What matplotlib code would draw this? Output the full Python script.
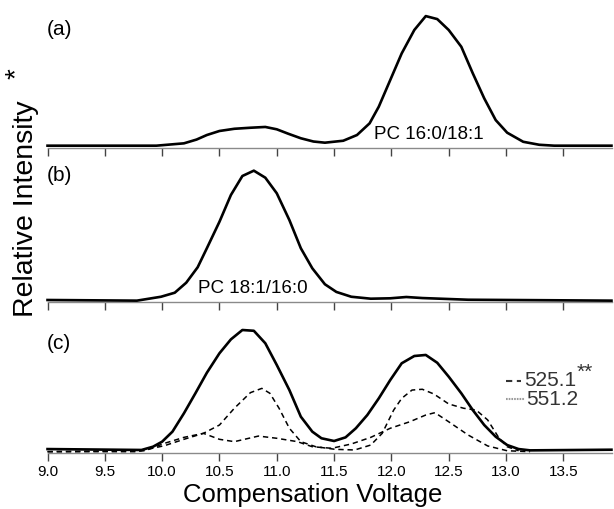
import matplotlib
matplotlib.use('Agg')
import matplotlib.pyplot as plt
from matplotlib.lines import Line2D

plt.rcParams['font.family'] = ['Liberation Sans', 'DejaVu Sans']

# Panel (a): PC 16:0/18:1
xa = [9.0, 9.95, 10.19, 10.30, 10.39, 10.50, 10.63, 10.77, 10.90, 11.0, 11.10, 11.21, 11.32,
      11.42, 11.58, 11.70, 11.81, 11.89, 11.99, 12.09, 12.20, 12.30, 12.40, 12.50, 12.61,
      12.71, 12.81, 12.91, 13.01, 13.15, 13.29, 13.42, 13.92]
ya = [1.8, 1.8, 3.6, 6.5, 10.0, 13.1, 14.8, 15.6, 16.2, 14.4, 11.0, 7.5, 5.0,
      4.1, 5.6, 10.0, 19.0, 31.8, 52.3, 72.8, 90.8, 101.5, 99.2, 90.8, 77.9,
      57.5, 38.2, 21.5, 11.8, 4.8, 2.5, 1.8, 1.8]

# Panel (b): PC 18:1/16:0
xb = [9.0, 9.78, 9.99, 10.11, 10.21, 10.31, 10.39, 10.50, 10.60, 10.70, 10.80, 10.90,
      11.0, 11.11, 11.21, 11.31, 11.42, 11.52, 11.65, 11.82, 11.99, 12.13, 12.27,
      12.67, 13.92]
yb = [1.3, 0.8, 3.8, 6.9, 14.6, 26.5, 41.1, 61.5, 82.1, 96.7, 100.8, 95.4,
      83.4, 62.8, 41.1, 25.7, 13.4, 7.5, 3.8, 2.3, 2.6, 3.6, 2.8,
      1.5, 0.8]

# Panel (c): mixture, total signal
xc = [9.0, 9.82, 9.92, 10.0, 10.09, 10.19, 10.29, 10.39, 10.50, 10.60, 10.70, 10.80,
      10.90, 11.0, 11.11, 11.21, 11.31, 11.39, 11.50, 11.60, 11.69, 11.79, 11.89,
      11.99, 12.09, 12.20, 12.30, 12.40, 12.50, 12.61, 12.71, 12.81, 12.91, 13.01,
      13.11, 13.21, 13.92]
yc = [2.8, 2.1, 4.6, 8.5, 16.2, 30.3, 45.7, 61.5, 76.5, 87.2, 94.4, 93.8,
      84.2, 67.5, 48.2, 27.7, 16.2, 11.1, 9.0, 11.8, 18.8, 29.0, 41.8,
      55.9, 68.8, 74.4, 75.2, 69.2, 58.5, 45.7, 32.8, 21.3, 12.3, 5.9,
      2.8, 1.8, 2.3]

# Panel (c): m/z 525.1
x525 = [9.0, 9.78, 10.02, 10.19, 10.36, 10.50, 10.63, 10.77, 10.87, 10.94, 11.02, 11.11,
        11.21, 11.34, 11.51, 11.68, 11.82, 11.92, 12.02, 12.09, 12.18, 12.27, 12.37,
        12.50, 12.63, 12.74, 12.84, 12.94, 13.01, 13.11]
y525 = [0.8, 0.8, 5.4, 10.3, 14.9, 21.3, 34.2, 46.2, 49.5, 45.7, 34.2, 18.8,
        8.5, 4.6, 2.6, 2.1, 5.9, 14.9, 32.8, 41.8, 48.2, 48.8, 45.2,
        37.5, 34.2, 32.8, 25.2, 11.1, 4.6, 1.5]

# Panel (c): m/z 551.2
x551 = [9.0, 9.85, 10.02, 10.19, 10.36, 10.50, 10.63, 10.84, 11.0, 11.18, 11.31, 11.48,
        11.65, 11.82, 11.99, 12.16, 12.30, 12.38, 12.50, 12.67, 12.84, 13.01, 13.21]
y551 = [0.8, 1.5, 7.2, 11.8, 14.9, 10.3, 8.5, 12.8, 11.1, 8.5, 4.6, 3.4,
        6.7, 11.8, 18.8, 23.8, 29.0, 30.8, 23.8, 13.6, 5.2, 1.5, 0.8]

xticks = [9.0, 9.5, 10.0, 10.5, 11.0, 11.5, 12.0, 12.5, 13.0, 13.5]
xtick_labels = ['9.0', '9.5', '10.0', '10.5', '11.0', '11.5', '12.0', '12.5', '13.0', '13.5']
panel_labels = ['(a)', '(b)', '(c)']

fig = plt.figure(figsize=(6.14, 5.09), dpi=100)

bottoms = [0.7092, 0.4073, 0.1106]
axes = []
for b in bottoms:
    ax = fig.add_axes([0.0774, b, 0.9194, 0.2809])
    ax.set_xlim(9.0, 13.925)
    ax.set_ylim(0, 110)
    for s in ['top', 'left', 'right']:
        ax.spines[s].set_visible(False)
    ax.spines['bottom'].set_color('#8a8a8a')
    ax.spines['bottom'].set_linewidth(1.0)
    ax.set_yticks([])
    ax.set_xticks(xticks)
    ax.tick_params(axis='x', direction='out', length=6, width=1.0, color='#444444',
                   labelsize=11, pad=3)
    ax.patch.set_alpha(0)
    axes.append(ax)

ax_a, ax_b, ax_c = axes
ax_a.set_xticklabels([])
ax_b.set_xticklabels([])
ax_c.set_xticklabels(xtick_labels)

ax_a.plot(xa, ya, color='black', lw=1.9, clip_on=False, zorder=3)
ax_b.plot(xb, yb, color='black', lw=1.9, clip_on=False, zorder=3)
ax_c.plot(xc, yc, color='black', lw=1.9, clip_on=False, zorder=3)
ax_c.plot(x525, y525, color='black', lw=1.1, ls=(0, (3.5, 2.5)), clip_on=False, zorder=4)
ax_c.plot(x551, y551, color='black', lw=1.1, ls=(0, (3.5, 2.5)), clip_on=False, zorder=4)

# panel letters
ax_a.text(8.99, 90.8, panel_labels[0], fontsize=15, ha='left', va='center')
ax_b.text(8.99, 96.7, panel_labels[1], fontsize=15, ha='left', va='center')
ax_c.text(8.99, 84.4, panel_labels[2], fontsize=15, ha='left', va='center')

ax_a.text(12.33, 10.5, 'PC 16:0/18:1', fontsize=13.5, ha='center', va='center')
ax_b.text(10.79, 10.5, 'PC 18:1/16:0', fontsize=13.5, ha='center', va='center')

# legend of panel (c), drawn by hand
ax_c.add_line(Line2D([13.0, 13.13], [55.4, 55.4], color='#333333', lw=1.5,
                     ls=(0, (3.0, 2.2)), clip_on=False))
ax_c.add_line(Line2D([13.0, 13.17], [41.3, 41.3], color='#9a9a9a', lw=1.5,
                     ls=(0, (0.8, 0.5)), clip_on=False))
ax_c.text(13.16, 55.4, '525.1', fontsize=15, color='#333333', ha='left', va='center')
ax_c.text(13.615, 62.0, '**', fontsize=15, color='#333333', ha='left', va='center')
ax_c.text(13.18, 41.3, '551.2', fontsize=15, color='#333333', ha='left', va='center')

fig.text(0.51, 0.004, 'Compensation Voltage', fontsize=18.5, ha='center', va='bottom')
fig.text(0.043, 0.59, 'Relative Intensity', fontsize=20.5, rotation=90, ha='center', va='center')
fig.text(0.027, 0.855, '*', fontsize=20, rotation=90, ha='center', va='center')

plt.savefig('out.png', dpi=100)
